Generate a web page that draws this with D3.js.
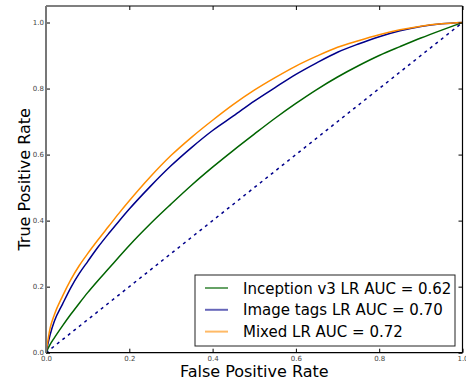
<!DOCTYPE html>
<html>
<head>
<meta charset="utf-8">
<script src="https://cdn.jsdelivr.net/npm/d3@7"></script>
<style>
  html, body { margin: 0; padding: 0; background: #fff; }
  svg { display: block; font-family: "DejaVu Sans", sans-serif; }
</style>
</head>
<body>
<svg id="chart" width="466" height="381"></svg>
<script>
// ---- data ----
const fpr          = [0, 0.01, 0.02, 0.04, 0.06, 0.08, 0.1, 0.125, 0.15, 0.175, 0.2, 0.25, 0.3, 0.35, 0.4, 0.45, 0.5, 0.55, 0.6, 0.65, 0.7, 0.75, 0.8, 0.85, 0.9, 0.95, 1.0];
const inceptionTpr = [0, 0.025, 0.045, 0.082, 0.117, 0.15, 0.182, 0.219, 0.254, 0.29, 0.325, 0.39, 0.45, 0.508, 0.562, 0.613, 0.662, 0.71, 0.755, 0.797, 0.835, 0.869, 0.9, 0.927, 0.953, 0.977, 1.0];
const tagsTpr      = [0, 0.055, 0.095, 0.148, 0.198, 0.24, 0.276, 0.32, 0.36, 0.398, 0.435, 0.503, 0.566, 0.622, 0.673, 0.717, 0.762, 0.803, 0.843, 0.878, 0.91, 0.935, 0.957, 0.975, 0.988, 0.996, 1.0];
const mixedTpr     = [0, 0.075, 0.115, 0.172, 0.222, 0.264, 0.30, 0.342, 0.382, 0.422, 0.46, 0.532, 0.597, 0.653, 0.704, 0.752, 0.795, 0.833, 0.868, 0.898, 0.925, 0.945, 0.963, 0.978, 0.989, 0.996, 1.0];
const seriesNames  = ["Inception v3 LR AUC = 0.62", "Image tags LR AUC = 0.70", "Mixed LR AUC = 0.72"];
const seriesColors = ["#006400", "#00008b", "#ff8c00"];
const xTicks = [0, 0.2, 0.4, 0.6, 0.8, 1.0];
const yTicks = [0, 0.2, 0.4, 0.6, 0.8, 1.0];

const svg = d3.select("#chart");
const L = 46, R = 462.5, T = 6, B = 352.7;
const x = d3.scaleLinear().domain([0, 1]).range([L, R]);
const y = d3.scaleLinear().domain([0, 1.05]).range([B, T]);

// chance diagonal
svg.append("line")
  .attr("x1", x(0)).attr("y1", y(0)).attr("x2", x(1)).attr("y2", y(1))
  .attr("stroke", "#00008b").attr("stroke-width", 1.5)
  .attr("stroke-dasharray", "3,4");

const line = d3.line().x(d => x(d[0])).y(d => y(d[1])).curve(d3.curveMonotoneX);
const allTpr = [inceptionTpr, tagsTpr, mixedTpr];
allTpr.forEach((tpr, i) => {
  svg.append("path")
    .datum(fpr.map((f, j) => [f, tpr[j]]))
    .attr("d", line)
    .attr("fill", "none")
    .attr("stroke", seriesColors[i])
    .attr("stroke-width", 1.5);
});

// axes (ticks inward on all sides)
const tickLen = 4;
const fmt = d3.format(".1f");
const xb = svg.append("g").attr("transform", `translate(0,${B})`)
  .call(d3.axisBottom(x).tickValues(xTicks).tickFormat(fmt).tickSizeInner(-tickLen).tickSizeOuter(0).tickPadding(3));
const yl = svg.append("g").attr("transform", `translate(${L},0)`)
  .call(d3.axisLeft(y).tickValues(yTicks).tickFormat(fmt).tickSizeInner(-tickLen).tickSizeOuter(0).tickPadding(2));
const xt = svg.append("g").attr("transform", `translate(0,${T})`)
  .call(d3.axisTop(x).tickValues(xTicks).tickFormat("").tickSizeInner(-tickLen).tickSizeOuter(0));
const yr = svg.append("g").attr("transform", `translate(${R},0)`)
  .call(d3.axisRight(y).tickValues(yTicks).tickFormat("").tickSizeInner(-tickLen).tickSizeOuter(0));
[xb, yl, xt, yr].forEach(g => {
  g.select(".domain").remove();
  g.selectAll("line").attr("stroke", "#000").attr("stroke-width", 1);
  g.selectAll("text").attr("font-size", 7).attr("fill", "#444").attr("font-family", "DejaVu Sans");
});
// spines
svg.append("line").attr("x1", L).attr("x2", R).attr("y1", B).attr("y2", B).attr("stroke", "#000").attr("stroke-width", 1.2);
svg.append("line").attr("x1", L).attr("x2", R).attr("y1", T).attr("y2", T).attr("stroke", "#000").attr("stroke-width", 1.2);
svg.append("line").attr("x1", R).attr("x2", R).attr("y1", T).attr("y2", B).attr("stroke", "#000").attr("stroke-width", 1.2);
svg.append("line").attr("x1", L).attr("x2", L).attr("y1", T).attr("y2", B).attr("stroke", "#777").attr("stroke-width", 2);

// axis labels
svg.append("text").attr("x", (L + R) / 2).attr("y", 377).attr("text-anchor", "middle")
  .attr("font-size", 16).attr("fill", "#000").text("False Positive Rate");
svg.append("text").attr("transform", `translate(30,${(T + B) / 2}) rotate(-90)`).attr("text-anchor", "middle")
  .attr("font-size", 16).attr("fill", "#000").text("True Positive Rate");

// legend
const lg = svg.append("g");
lg.append("rect").attr("x", 195).attr("y", 275).attr("width", 260).attr("height", 71)
  .attr("fill", "#fff").attr("stroke", "#222").attr("stroke-width", 1);
seriesNames.forEach((name, i) => {
  const cy = 288 + i * 21.8;
  lg.append("line").attr("x1", 205).attr("x2", 228).attr("y1", cy).attr("y2", cy)
    .attr("stroke", seriesColors[i]).attr("stroke-width", 2).attr("stroke-opacity", 0.6);
  lg.append("text").attr("x", 243).attr("y", cy + 5.5).attr("font-size", 15).attr("fill", "#000").text(name);
});
</script>
</body>
</html>
